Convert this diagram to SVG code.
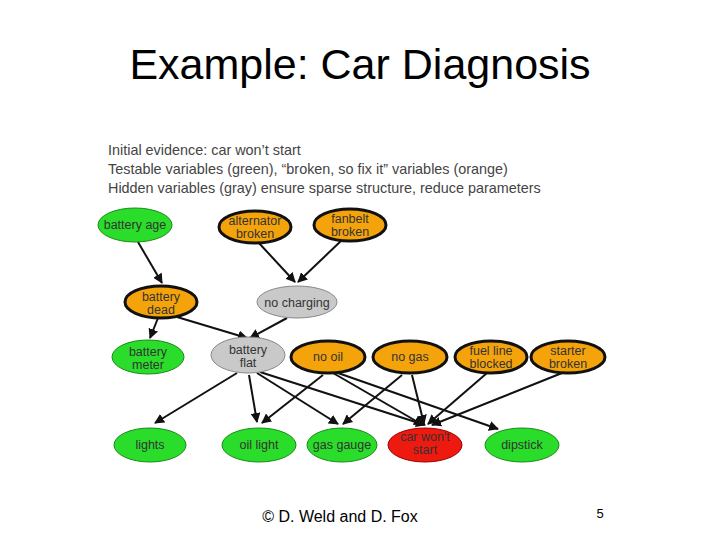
<svg xmlns="http://www.w3.org/2000/svg" width="720" height="540" viewBox="0 0 720 540">
<style>
.t{font-family:"Liberation Sans",Arial,sans-serif}
.n{font-family:"Liberation Sans",Arial,sans-serif;font-size:12.5px;text-anchor:middle;fill:#333}
.g{fill:#2add2a;stroke:#1a8a1a;stroke-width:1}
.o{fill:#f5a30a;stroke:#111;stroke-width:3}
.h{fill:#c9c9c9;stroke:#888;stroke-width:1}
.r{fill:#ee1a10;stroke:#900;stroke-width:1}
.e line{stroke:#111;stroke-width:2;marker-end:url(#a)}
</style>
<defs><marker id="a" viewBox="0 0 10 10" refX="9" refY="5" markerWidth="5" markerHeight="5" orient="auto"><path d="M0,0L10,5L0,10z" fill="#111"/></marker></defs>
<rect width="720" height="540" fill="#fff"/>
<text class="t" x="360" y="79" font-size="43" text-anchor="middle" fill="#000">Example: Car Diagnosis</text>
<g class="t" font-size="14.4" fill="#444">
<text x="108" y="155">Initial evidence:  car won’t start</text>
<text x="108" y="174">Testable variables (green), “broken, so fix it” variables (orange)</text>
<text x="108" y="193">Hidden variables (gray) ensure sparse structure, reduce parameters</text>
</g>
<g class="e">
<line x1="138" y1="242" x2="162" y2="283"/>
<line x1="258" y1="242" x2="295" y2="282"/>
<line x1="342" y1="240" x2="298" y2="282"/>
<line x1="158" y1="318" x2="150" y2="338"/>
<line x1="177" y1="317" x2="247" y2="338"/>
<line x1="287" y1="318" x2="250" y2="338"/>
<line x1="237" y1="373" x2="155" y2="423"/>
<line x1="249" y1="375" x2="257" y2="422"/>
<line x1="257" y1="373" x2="338" y2="424"/>
<line x1="260" y1="372" x2="425" y2="425"/>
<line x1="323" y1="375" x2="262" y2="423"/>
<line x1="333" y1="373" x2="423" y2="425"/>
<line x1="338" y1="373" x2="498" y2="429"/>
<line x1="402" y1="375" x2="343" y2="424"/>
<line x1="412" y1="375" x2="424" y2="424"/>
<line x1="487" y1="373" x2="428" y2="424"/>
<line x1="562" y1="373" x2="432" y2="425"/>
</g>
<g id="battery-age"><ellipse class="g" cx="135" cy="225" rx="37" ry="17"/><text class="n" x="135" y="229">battery age</text></g>
<g id="alternator-broken"><ellipse class="o" cx="255" cy="227" rx="36" ry="16"/><text class="n" x="255" y="225">alternator</text><text class="n" x="255" y="238">broken</text></g>
<g id="fanbelt-broken"><ellipse class="o" cx="350" cy="225" rx="36" ry="16"/><text class="n" x="350" y="223">fanbelt</text><text class="n" x="350" y="236">broken</text></g>
<g id="battery-dead"><ellipse class="o" cx="161" cy="302" rx="36" ry="16"/><text class="n" x="161" y="301">battery</text><text class="n" x="161" y="314">dead</text></g>
<g id="no-charging"><ellipse class="h" cx="297" cy="302" rx="40" ry="16"/><text class="n" x="297" y="307">no charging</text></g>
<g id="battery-meter"><ellipse class="g" cx="148" cy="357" rx="36" ry="17"/><text class="n" x="148" y="356">battery</text><text class="n" x="148" y="369">meter</text></g>
<g id="battery-flat"><ellipse class="h" cx="248" cy="355" rx="37" ry="18"/><text class="n" x="248" y="354">battery</text><text class="n" x="248" y="367">flat</text></g>
<g id="no-oil"><ellipse class="o" cx="328" cy="357" rx="37" ry="16"/><text class="n" x="328" y="361">no oil</text></g>
<g id="no-gas"><ellipse class="o" cx="410" cy="357" rx="37" ry="16"/><text class="n" x="410" y="361">no gas</text></g>
<g id="fuel-line-blocked"><ellipse class="o" cx="491" cy="357" rx="36" ry="16"/><text class="n" x="491" y="355">fuel line</text><text class="n" x="491" y="368">blocked</text></g>
<g id="starter-broken"><ellipse class="o" cx="568" cy="357" rx="37" ry="16"/><text class="n" x="568" y="355">starter</text><text class="n" x="568" y="368">broken</text></g>
<g id="lights"><ellipse class="g" cx="150" cy="445" rx="36" ry="17"/><text class="n" x="150" y="449">lights</text></g>
<g id="oil-light"><ellipse class="g" cx="259" cy="445" rx="37" ry="17"/><text class="n" x="259" y="449">oil light</text></g>
<g id="gas-gauge"><ellipse class="g" cx="342" cy="445" rx="35" ry="17"/><text class="n" x="342" y="449">gas gauge</text></g>
<g id="car-wont-start"><ellipse class="r" cx="425" cy="445" rx="37" ry="17"/><text class="n" x="425" y="441">car won't</text><text class="n" x="425" y="454">start</text></g>
<g id="dipstick"><ellipse class="g" cx="522" cy="445" rx="37" ry="17"/><text class="n" x="522" y="449">dipstick</text></g>
<text class="t" x="340" y="522" font-size="16" text-anchor="middle" fill="#000">© D. Weld and D. Fox</text>
<text class="t" x="600" y="518" font-size="13" text-anchor="middle" fill="#000">5</text>
</svg>
